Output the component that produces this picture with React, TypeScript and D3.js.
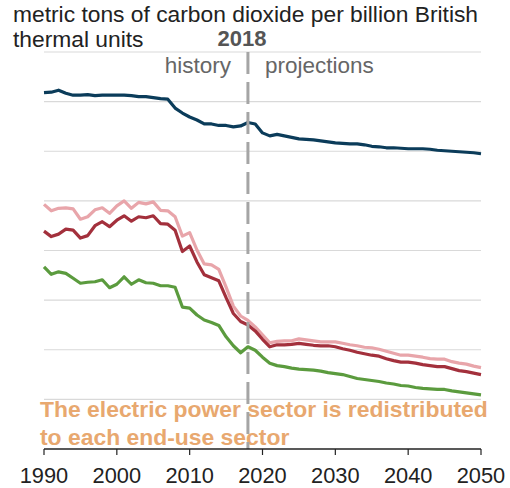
import React from "react";
import * as d3 from "d3";

const years: number[] = d3.range(1990, 2051);

const blueSeries: number[] = [
  71.8, 71.9, 72.3, 71.7, 71.3, 71.3, 71.4, 71.2, 71.3, 71.3,
  71.3, 71.3, 71.2, 71.0, 71.0, 70.8, 70.6, 70.5, 68.7, 67.7,
  66.9, 66.3, 65.5, 65.5, 65.2, 65.2, 64.9, 65.1, 65.8, 65.5,
  63.7, 63.1, 63.4, 63.1, 62.8, 62.5, 62.4, 62.3, 62.1, 61.9,
  61.7, 61.6, 61.5, 61.5, 61.3, 61.0, 60.9, 60.7, 60.7, 60.6,
  60.5, 60.5, 60.5, 60.4, 60.2, 60.1, 60.0, 59.9, 59.8, 59.7,
  59.5,
];

const pinkSeries: number[] = [
  49.3, 48.0, 48.5, 48.6, 48.4, 46.3, 46.8, 48.2, 48.6, 47.5,
  49.0, 50.0, 48.5, 49.7, 49.4, 49.8, 48.1, 48.0, 46.8, 42.9,
  43.6, 40.1, 37.3, 37.1, 36.2, 32.6, 28.8, 26.8, 25.9, 24.6,
  23.0, 21.4, 21.7, 21.8, 21.8, 22.2, 22.0, 21.8, 21.6, 21.6,
  21.6, 21.3, 21.0, 20.8, 20.5, 20.4, 20.1, 19.7, 19.3, 18.9,
  18.9, 18.7, 18.5, 18.2, 18.1, 18.1, 17.6, 17.3, 17.1, 16.7,
  16.4,
];

const redSeries: number[] = [
  43.9, 42.8, 43.3, 44.3, 44.1, 42.5, 43.0, 45.0, 45.8, 44.8,
  46.1, 47.0, 45.9, 46.8, 46.6, 47.0, 45.4, 45.3, 44.1, 39.8,
  40.9, 37.7, 35.1, 34.5, 33.9, 30.5, 27.3, 25.7, 25.0, 23.8,
  22.1, 20.6, 21.0, 21.0, 21.1, 21.3, 21.1, 20.9, 20.8, 20.8,
  20.6, 20.2, 19.9, 19.5, 19.2, 18.9, 18.7, 18.2, 17.8, 17.5,
  17.5, 17.3, 17.0, 16.8, 16.6, 16.6, 16.2, 15.8, 15.6, 15.3,
  15.0,
];

const greenSeries: number[] = [
  36.7, 35.2, 35.7, 35.4, 34.4, 33.4, 33.6, 33.7, 34.1, 32.5,
  33.2, 34.7, 33.2, 34.1, 33.5, 33.4, 32.9, 32.9, 32.6, 28.6,
  28.4, 27.0, 26.0, 25.5, 24.9, 22.6, 20.8, 19.4, 20.6, 19.9,
  18.5, 17.3, 16.8, 16.6, 16.3, 16.1, 16.0, 15.9, 15.7, 15.4,
  15.2, 15.0, 14.6, 14.2, 14.0, 13.8, 13.6, 13.3, 13.1, 12.8,
  12.7, 12.4, 12.2, 12.1, 12.0, 12.0, 11.7, 11.5, 11.3, 11.1,
  10.9,
];

const xTicks: number[] = [1990, 2000, 2010, 2020, 2030, 2040, 2050];
const yGrid: number[] = [10, 20, 30, 40, 50, 60, 70, 80];
const titleLines: string[] = ["metric tons of carbon dioxide per billion British", "thermal units"];
const noteLines: string[] = ["The electric power sector is redistributed", "to each end-use sector"];
const dividerYear = 2018;

const FONT = "'Liberation Sans', Arial, Helvetica, sans-serif";

export default function App() {
  const W = 510;
  const H = 488;
  const x = d3.scaleLinear().domain([1990, 2050]).range([44, 481]);
  const y = d3.scaleLinear().domain([0, 80]).range([449, 52]);

  const line = (vals: number[]) =>
    d3
      .line<number>()
      .x((_, i) => x(years[i]))
      .y((d) => y(d))(vals) || "";

  const series = [
    { vals: greenSeries, color: "#5b9b3e" },
    { vals: pinkSeries, color: "#e8a5aa" },
    { vals: redSeries, color: "#a3303c" },
    { vals: blueSeries, color: "#0b3c5a" },
  ];

  return (
    <svg
      width={W}
      height={H}
      style={{ position: "absolute", left: 0, top: 0, background: "#fff" }}
      fontFamily={FONT}
    >
      {titleLines.map((t, i) => (
        <text key={t} x={13} y={22 + i * 25} fontSize={22.8} fill="#222">
          {t}
        </text>
      ))}
      <text x={x(dividerYear) - 6} y={46} fontSize={22} fontWeight="bold" fill="#555" textAnchor="middle">
        {dividerYear}
      </text>
      {yGrid.map((g) => (
        <line key={g} x1={44} x2={481} y1={y(g)} y2={y(g)} stroke="#d9d9d9" strokeWidth={1.2} />
      ))}
      <text x={x(dividerYear) - 17} y={73} fontSize={22.5} fill="#666" textAnchor="end">
        history
      </text>
      <text x={x(dividerYear) + 17} y={73} fontSize={22.5} fill="#666">
        projections
      </text>
      {series.map((s, i) => (
        <path key={i} d={line(s.vals)} fill="none" stroke={s.color} strokeWidth={3.2} strokeLinejoin="round" />
      ))}
      {noteLines.map((t, i) => (
        <text key={t} x={40} y={417 + i * 28} fontSize={22.9} fontWeight="bold" fill="#e8a86f">
          {t}
        </text>
      ))}
      <line
        x1={x(dividerYear)}
        x2={x(dividerYear)}
        y1={52}
        y2={449}
        stroke="#a5a5a5"
        strokeWidth={3}
        strokeDasharray="22,8"
      />
      <line x1={44} x2={481} y1={449} y2={449} stroke="#222" strokeWidth={1.6} />
      {xTicks.map((t) => (
        <g key={t}>
          <line x1={x(t)} x2={x(t)} y1={449} y2={455} stroke="#222" strokeWidth={1.2} />
          <text x={x(t)} y={483} fontSize={21.8} fill="#222" textAnchor="middle">
            {t}
          </text>
        </g>
      ))}
    </svg>
  );
}
